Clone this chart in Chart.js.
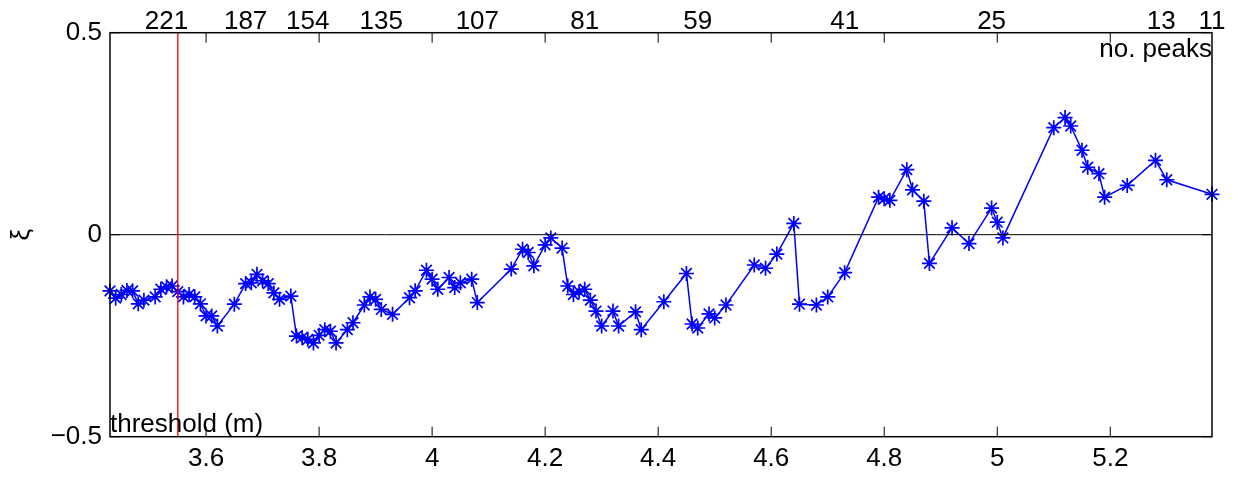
<!DOCTYPE html>
<html>
<head>
<meta charset="utf-8">
<script src="https://cdn.jsdelivr.net/npm/chart.js@4.4.1/dist/chart.umd.min.js"></script>
<style>
  html, body { margin: 0; padding: 0; background: #fff; }
</style>
</head>
<body>
<canvas id="chart" width="1234" height="477"></canvas>
<script>
// threshold (m) -> xi
const thresholds = [
  3.43, 3.44, 3.45, 3.46, 3.47, 3.48, 3.49, 3.51, 3.52, 3.53,
  3.54, 3.55, 3.56, 3.57, 3.58, 3.59, 3.60, 3.61, 3.62, 3.65,
  3.67, 3.68, 3.69, 3.70, 3.71, 3.72, 3.73, 3.75, 3.76, 3.77,
  3.78, 3.79, 3.80, 3.81, 3.82, 3.83, 3.85, 3.86, 3.88, 3.89,
  3.90, 3.91, 3.93, 3.96, 3.97, 3.99, 4.00, 4.01, 4.03, 4.04,
  4.05, 4.07, 4.08, 4.14, 4.16, 4.17, 4.18, 4.20, 4.21, 4.23,
  4.24, 4.25, 4.26, 4.27, 4.28, 4.29, 4.30, 4.32, 4.33, 4.36,
  4.37, 4.41, 4.45, 4.46, 4.47, 4.49, 4.50, 4.52, 4.57, 4.59,
  4.61, 4.64, 4.65, 4.68, 4.70, 4.73, 4.79, 4.80, 4.81, 4.84,
  4.85, 4.87, 4.88, 4.92, 4.95, 4.99, 5.00, 5.01, 5.10, 5.12,
  5.13, 5.15, 5.16, 5.18, 5.19, 5.23, 5.28, 5.30, 5.38,
]
const xi = [
  -0.139, -0.157, -0.148, -0.138, -0.139, -0.171, -0.162, -0.154, -0.135, -0.129,
  -0.127, -0.141, -0.154, -0.148, -0.154, -0.171, -0.201, -0.201, -0.226, -0.172,
  -0.121, -0.119, -0.098, -0.114, -0.121, -0.144, -0.160, -0.152, -0.251, -0.255,
  -0.259, -0.268, -0.249, -0.235, -0.239, -0.268, -0.235, -0.218, -0.174, -0.154,
  -0.160, -0.185, -0.197, -0.156, -0.139, -0.088, -0.110, -0.135, -0.106, -0.131,
  -0.119, -0.110, -0.168, -0.085, -0.036, -0.044, -0.077, -0.025, -0.008, -0.033,
  -0.127, -0.148, -0.141, -0.135, -0.162, -0.189, -0.226, -0.189, -0.226, -0.191,
  -0.235, -0.166, -0.096, -0.221, -0.231, -0.196, -0.206, -0.174, -0.075, -0.083,
  -0.048, 0.028, -0.172, -0.174, -0.154, -0.094, 0.093, 0.089, 0.085, 0.161,
  0.111, 0.083, -0.071, 0.017, -0.022, 0.066, 0.031, -0.008, 0.265, 0.290,
  0.269, 0.209, 0.167, 0.151, 0.093, 0.122, 0.184, 0.136, 0.100,
]

const xTicks = [3.6, 3.8, 4.0, 4.2, 4.4, 4.6, 4.8, 5.0, 5.2]
const yTicks = [-0.5, 0, 0.5]
// number of peaks above a threshold, shown along the top
const peakAt     = [3.53, 3.67, 3.78, 3.91, 4.08, 4.27, 4.47, 4.73, 4.99, 5.29, 5.38]
const peakCounts = [221, 187, 154, 135, 107, 81, 59, 41, 25, 13, 11]
const chosenThreshold = 3.55
const xRange = [3.43, 5.38]
const yRange = [-0.5, 0.5]

const FONT = { family: "'Liberation Sans', Arial, sans-serif", size: 26, lineHeight: 1 }
const BLUE = "#0000ff"

// MATLAB-like box with inward tick marks, plus the in-axes labels
const frameTicks = {
  id: "frameTicks",
  afterDatasetsDraw(chart) {
    const { ctx, chartArea: a, scales } = chart
    const len = 10
    ctx.save()
    ctx.strokeStyle = "#000"
    ctx.lineWidth = 1.5
    ctx.strokeRect(a.left, a.top, a.right - a.left, a.bottom - a.top)
    ctx.lineWidth = 1
    ctx.beginPath()
    scales.x.ticks.forEach((t) => {
      const px = scales.x.getPixelForValue(t.value)
      ctx.moveTo(px, a.bottom); ctx.lineTo(px, a.bottom - len)
      ctx.moveTo(px, a.top);    ctx.lineTo(px, a.top + len)
    })
    scales.y.ticks.forEach((t) => {
      const py = scales.y.getPixelForValue(t.value)
      ctx.moveTo(a.left, py);  ctx.lineTo(a.left + len, py)
      ctx.moveTo(a.right, py); ctx.lineTo(a.right - len, py)
    })
    ctx.stroke()

    ctx.fillStyle = "#000"
    ctx.font = `${FONT.size}px ${FONT.family}`
    ctx.textBaseline = "alphabetic"
    ctx.textAlign = "left"
    ctx.fillText("threshold (m)", a.left, a.bottom - 5)
    ctx.textAlign = "right"
    ctx.fillText("no. peaks", a.right, a.top + 24)
    ctx.restore()
  },
}

const fmt = (v) => {
  const s = String(+v.toFixed(2))
  return v < 0 ? "\u2212" + s.slice(1) : s
}

new Chart(document.getElementById("chart"), {
  type: "line",
  data: {
    datasets: [
      {
        label: "threshold",
        data: yRange.map((y) => ({ x: chosenThreshold, y })),
        borderColor: "#ff0000",
        borderWidth: 1.3,
        pointRadius: 0,
      },
      {
        label: "zero",
        data: xRange.map((x) => ({ x, y: 0 })),
        borderColor: "#000",
        borderWidth: 1,
        pointRadius: 0,
      },
      {
        label: "xi",
        data: thresholds.map((x, i) => ({ x, y: xi[i] })),
        borderColor: BLUE,
        borderWidth: 1.5,
        pointStyle: "star",
        pointRadius: 7.5,
        pointBorderColor: BLUE,
        pointBackgroundColor: BLUE,
        pointBorderWidth: 1.7,
        tension: 0,
        clip: false,
      },
    ],
  },
  options: {
    responsive: false,
    animation: false,
    devicePixelRatio: 1,
    layout: { padding: { left: 0, right: 22, top: 0, bottom: 0 } },
    plugins: { legend: { display: false }, tooltip: { enabled: false } },
    scales: {
      x: {
        type: "linear",
        position: "bottom",
        min: xRange[0],
        max: xRange[1],
        afterBuildTicks: (s) => { s.ticks = xTicks.map((value) => ({ value })) },
        afterFit: (s) => { s.height = 40.3 },
        grid: { display: false, drawTicks: false },
        border: { display: false },
        ticks: { font: FONT, color: "#000", padding: 9, maxRotation: 0, autoSkip: false,
                 callback: (v) => fmt(v) },
      },
      x2: {
        type: "linear",
        position: "top",
        min: xRange[0],
        max: xRange[1],
        afterBuildTicks: (s) => { s.ticks = peakAt.map((value) => ({ value })) },
        afterFit: (s) => { s.height = 32.7 },
        grid: { display: false, drawTicks: false },
        border: { display: false },
        ticks: { font: FONT, color: "#000", padding: -2, maxRotation: 0, autoSkip: false,
                 callback: (v, i) => String(peakCounts[i]) },
      },
      y: {
        min: yRange[0],
        max: yRange[1],
        afterBuildTicks: (s) => { s.ticks = yTicks.map((value) => ({ value })) },
        afterFit: (s) => { s.width = 110 },
        grid: { display: false, drawTicks: false },
        border: { display: false },
        ticks: { font: FONT, color: "#000", padding: 8, callback: (v) => fmt(v) },
        title: { display: true, text: "ξ", font: FONT, color: "#000", padding: { top: 9, bottom: 0 } },
      },
    },
  },
  plugins: [frameTicks],
})
</script>
</body>
</html>
